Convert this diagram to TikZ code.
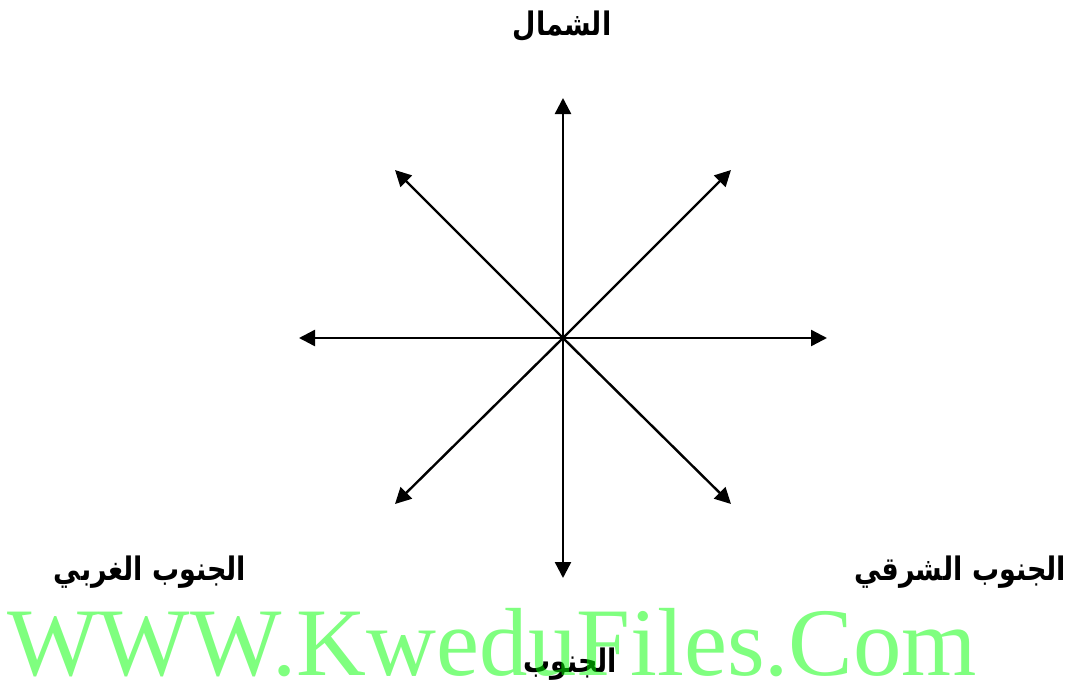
\documentclass[tikz,border=0pt]{standalone}
\usepackage{fontspec}
\usetikzlibrary{arrows.meta}
\TeXXeTstate=1
\newfontfamily\arabicfont[Script=Arabic]{DejaVu Sans}
\setmainfont{Liberation Serif}
\newcommand{\artext}[1]{\scalebox{1}[1.2]{\beginR #1\endR}}
\tikzset{
  dirarrow/.style={line width=2.4pt,-{Triangle[length=16pt,width=16pt]}},
  arlabel/.style={font=\arabicfont\bfseries\fontsize{27}{30}\selectfont,inner sep=0pt},
  watermark/.style={text=green,text opacity=0.5,inner sep=0pt,font=\fontsize{96}{100}\selectfont}
}
\begin{document}
\begin{tikzpicture}[x=1pt,y=-1pt]
\useasboundingbox[fill=white] (0,0) rectangle (1071,688);
\coordinate (c) at (563,338);
\coordinate (n) at (563,98);
\coordinate (s) at (563,578);
\coordinate (e) at (827,338);
\coordinate (w) at (299,338);
\coordinate (ne) at (731,170);
\coordinate (nw) at (395,170);
\coordinate (se) at (731,504);
\coordinate (sw) at (395,504);
\foreach \p in {n,s,e,w,ne,nw,se,sw} \draw[dirarrow] (c) -- (\p);
\node[arlabel] (north) at (562,26) {\artext{الشمال}};
\node[arlabel] (swl) at (150,572) {\artext{الجنوب الغربي}};
\node[arlabel] (sel) at (960,572) {\artext{الجنوب الشرقي}};
\node[arlabel] (south) at (570,664) {\artext{الجنوب}};
\node[watermark,anchor=base west] (wm) at (7,675) {\resizebox{970pt}{!}{WWW.KweduFiles.Com}};
\end{tikzpicture}
\end{document}
